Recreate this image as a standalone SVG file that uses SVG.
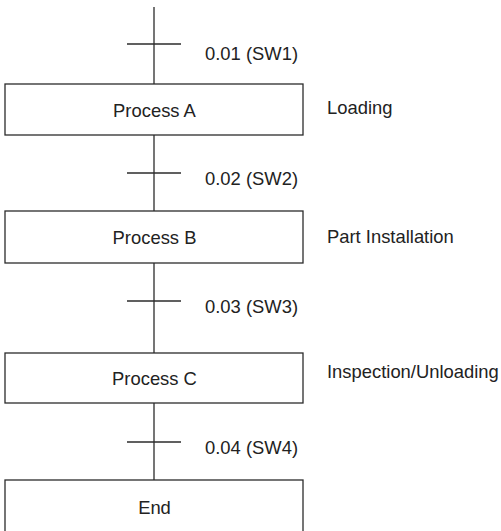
<svg xmlns="http://www.w3.org/2000/svg" width="501" height="531" viewBox="0 0 501 531">
<style>
.box{fill:#fff;stroke:#2b2b2b;stroke-width:1.3}
.ln{stroke:#2b2b2b;stroke-width:1.3;fill:none}
text{font-family:"Liberation Sans",Arial,sans-serif;font-size:18.4px;fill:#222}
.c{text-anchor:middle}
</style>
<rect width="501" height="531" fill="#fff"/>
<g id="connectors">
<line class="ln" x1="154" y1="7" x2="154" y2="84"/>
<line class="ln" x1="127" y1="44" x2="181" y2="44"/>
<text x="205" y="60">0.01 (SW1)</text>
<line class="ln" x1="154" y1="135" x2="154" y2="211"/>
<line class="ln" x1="127" y1="173" x2="181" y2="173"/>
<text x="205" y="185">0.02 (SW2)</text>
<line class="ln" x1="154" y1="263" x2="154" y2="353"/>
<line class="ln" x1="127" y1="301" x2="181" y2="301"/>
<text x="205" y="313">0.03 (SW3)</text>
<line class="ln" x1="154" y1="403" x2="154" y2="480"/>
<line class="ln" x1="127" y1="442" x2="181" y2="442"/>
<text x="205" y="454">0.04 (SW4)</text>
</g>
<g id="processA">
<rect class="box" x="5" y="84" width="298" height="51"/>
<text class="c" x="154.5" y="116.5">Process A</text>
<text x="327" y="114">Loading</text>
</g>
<g id="processB">
<rect class="box" x="5" y="211" width="298" height="52"/>
<text class="c" x="154.5" y="243.5">Process B</text>
<text x="327" y="242.5">Part Installation</text>
</g>
<g id="processC">
<rect class="box" x="5" y="353" width="298" height="50"/>
<text class="c" x="154.5" y="384.5">Process C</text>
<text x="327" y="378">Inspection/Unloading</text>
</g>
<g id="end">
<rect class="box" x="5" y="480" width="298" height="60"/>
<text class="c" x="154.5" y="513.5">End</text>
</g>
</svg>
